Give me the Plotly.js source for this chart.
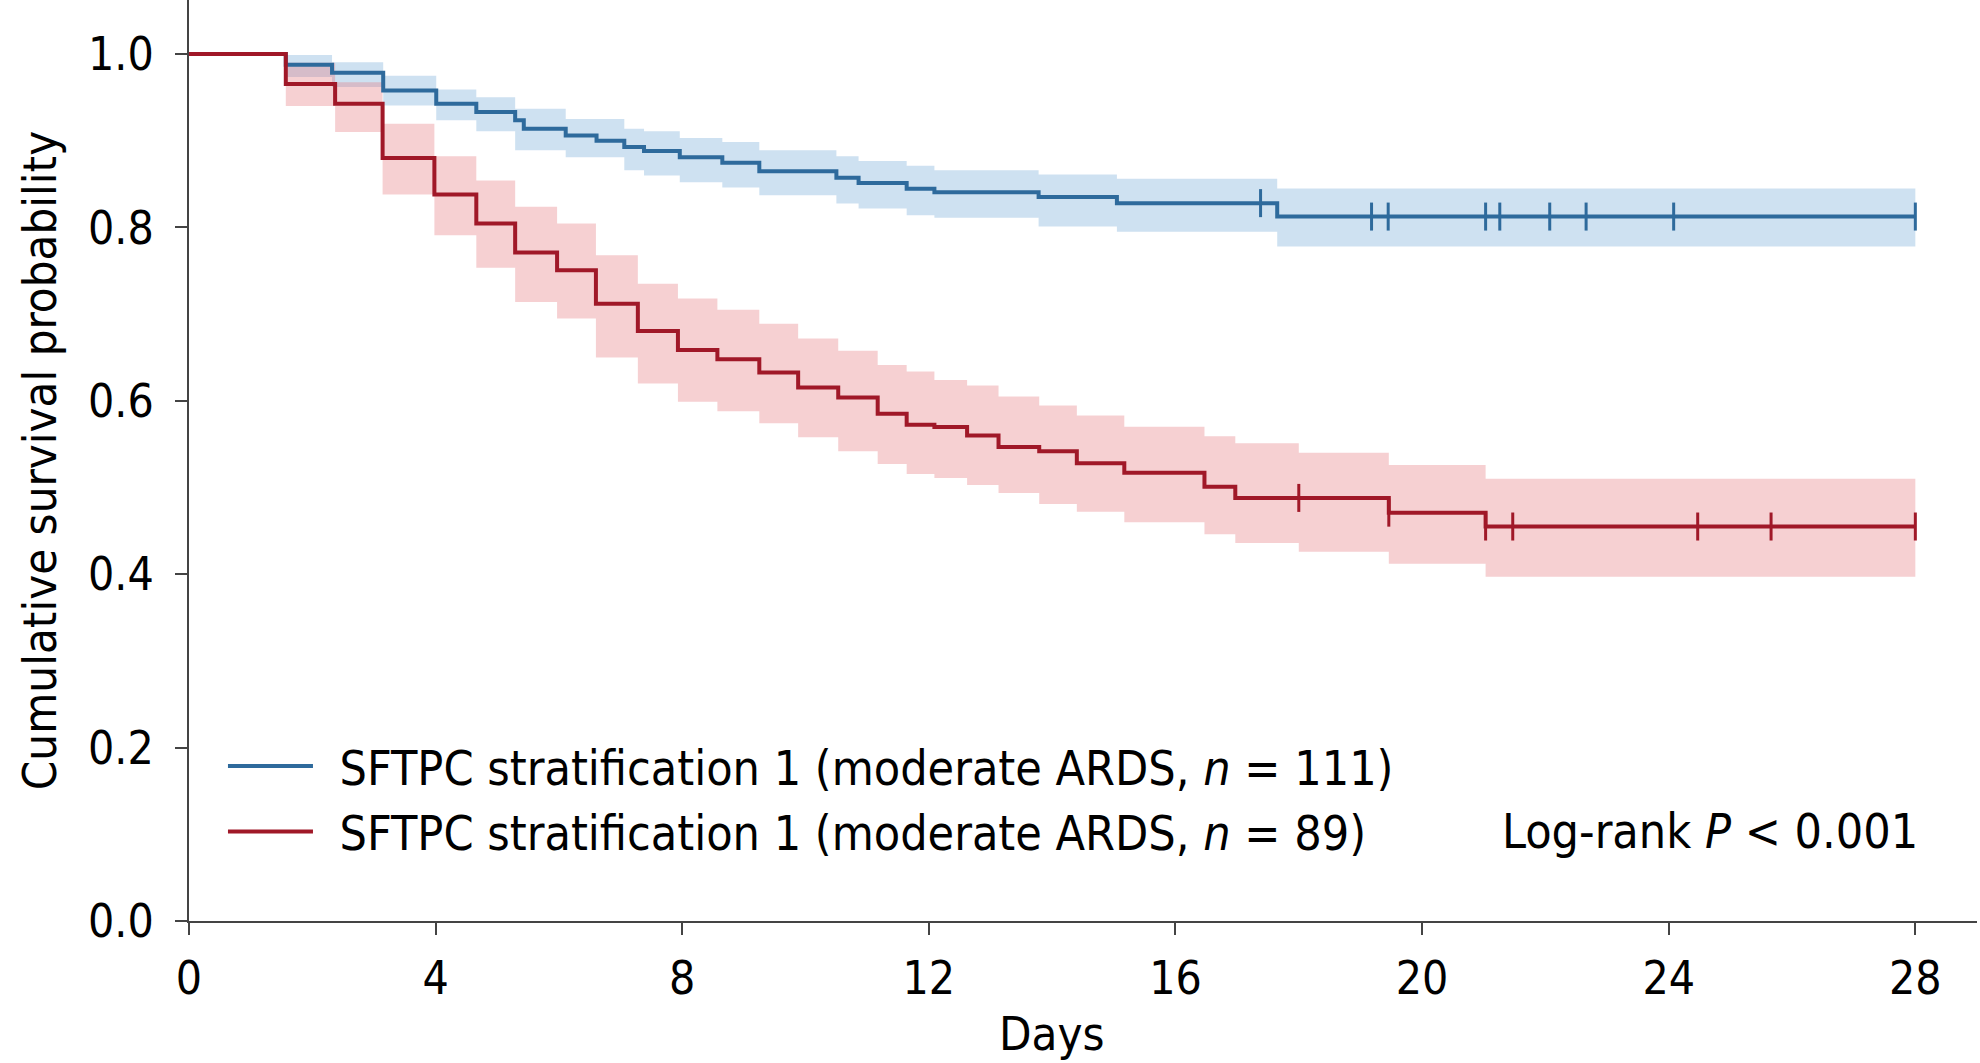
<!DOCTYPE html>
<html>
<head>
<meta charset="utf-8">
<script src="https://cdn.plot.ly/plotly-3.0.1.min.js"></script>
<style>html,body{margin:0;padding:0;background:#fff;}#chart{width:1980px;height:1063px;}</style>
</head>
<body>
<div id="chart"></div>
<script>
// ---- Data ----
const blueName = "&#8194;SFTPC stratification 1 (moderate ARDS, <i>n</i> = 111)";
const redName = "&#8194;SFTPC stratification 1 (moderate ARDS, <i>n</i> = 89)";

const blueTimes = [0,1.57,2.32,3.15,4.01,4.66,5.29,5.43,6.11,6.61,7.06,7.38,7.96,8.65,9.25,10.50,10.86,11.64,12.09,13.78,15.05,17.65,28];
const blueSurv  = [1,0.9877,0.9783,0.958,0.9426,0.933,0.9235,0.9138,0.906,0.900,0.8927,0.8881,0.8809,0.8747,0.8648,0.8574,0.8513,0.8447,0.8405,0.835,0.828,0.8125,0.8125];

const blueBandTimes = [0,1.57,2.32,3.15,4.01,4.66,5.29,6.11,7.06,7.38,7.96,8.65,9.25,10.50,10.86,11.64,12.09,13.78,15.05,17.65,28];
const blueUpper = [1,0.999,0.9906,0.975,0.959,0.950,0.937,0.925,0.9138,0.911,0.903,0.8985,0.889,0.882,0.8766,0.871,0.866,0.861,0.856,0.845,0.845];
const blueLower = [1,0.9735,0.962,0.9407,0.9235,0.911,0.889,0.881,0.866,0.860,0.852,0.846,0.837,0.8275,0.8217,0.814,0.811,0.801,0.795,0.778,0.778];

const blueCensorTimes = [17.38,19.18,19.45,21.03,21.26,22.07,22.66,24.08,28.0];
const blueCensorSurv  = [0.828,0.8125,0.8125,0.8125,0.8125,0.8125,0.8125,0.8125,0.8125];

const redTimes = [0,1.57,2.37,3.14,3.98,4.66,5.29,5.97,6.60,7.28,7.93,8.57,9.25,9.88,10.53,11.17,11.64,12.09,12.62,13.13,13.79,14.40,15.17,16.47,16.97,19.46,21.03,28];
const redSurv  = [1,0.9655,0.9426,0.880,0.838,0.8045,0.771,0.7507,0.712,0.6806,0.6587,0.648,0.6326,0.6153,0.6038,0.585,0.5724,0.5697,0.560,0.5467,0.5417,0.528,0.517,0.501,0.488,0.471,0.455,0.455];

const redBandTimes = [0,1.57,2.37,3.14,3.98,4.66,5.29,5.97,6.60,7.28,7.93,8.57,9.25,9.88,10.53,11.17,11.64,12.09,12.62,13.13,13.79,14.40,15.17,16.47,16.97,18.0,19.46,21.03,28];
const redUpper = [1,0.99,0.9675,0.9196,0.882,0.854,0.8237,0.8045,0.768,0.735,0.718,0.705,0.689,0.672,0.6576,0.6414,0.6337,0.624,0.6176,0.605,0.5946,0.583,0.570,0.559,0.551,0.540,0.526,0.510,0.510];
const redLower = [1,0.94,0.910,0.838,0.791,0.7535,0.714,0.695,0.65,0.620,0.599,0.588,0.574,0.558,0.5417,0.527,0.5156,0.511,0.503,0.4937,0.481,0.472,0.460,0.446,0.436,0.426,0.412,0.397,0.397];

const redCensorTimes = [18.0,19.46,21.03,21.47,24.47,25.66,28.0];
const redCensorSurv  = [0.488,0.471,0.455,0.455,0.455,0.455,0.455];

const xTicks = [0,4,8,12,16,20,24,28];
const yTicks = [0,0.2,0.4,0.6,0.8,1.0];

// ---- Styles ----
const FONT = "DejaVu Sans Condensed, DejaVu Sans, sans-serif";
const BLUE = "#2e6a9c";
const RED = "#a01828";
const BLUE_FILL = "rgba(116,169,214,0.35)";
const RED_FILL = "rgba(230,120,125,0.35)";
const AXIS = "#444444";

const traces = [
  {x: blueBandTimes, y: blueUpper, mode: "lines", line: {shape: "hv", width: 0, color: BLUE_FILL}, showlegend: false, hoverinfo: "skip"},
  {x: blueBandTimes, y: blueLower, mode: "lines", line: {shape: "hv", width: 0, color: BLUE_FILL}, fill: "tonexty", fillcolor: BLUE_FILL, showlegend: false, hoverinfo: "skip"},
  {x: redBandTimes, y: redUpper, mode: "lines", line: {shape: "hv", width: 0, color: RED_FILL}, showlegend: false, hoverinfo: "skip"},
  {x: redBandTimes, y: redLower, mode: "lines", line: {shape: "hv", width: 0, color: RED_FILL}, fill: "tonexty", fillcolor: RED_FILL, showlegend: false, hoverinfo: "skip"},
  {x: blueTimes, y: blueSurv, mode: "lines", name: blueName, line: {shape: "hv", width: 4, color: BLUE}, legendrank: 1},
  {x: blueCensorTimes, y: blueCensorSurv, mode: "markers", showlegend: false,
   marker: {symbol: "line-ns-open", size: 20, color: BLUE, line: {width: 3, color: BLUE}}},
  {x: redTimes, y: redSurv, mode: "lines", name: redName, line: {shape: "hv", width: 4, color: RED}, legendrank: 2},
  {x: redCensorTimes, y: redCensorSurv, mode: "markers", showlegend: false,
   marker: {symbol: "line-ns-open", size: 20, color: RED, line: {width: 3, color: RED}}}
];

const layout = {
  width: 1980, height: 1063,
  margin: {l: 189, r: 3, t: 0, b: 142, pad: 0},
  paper_bgcolor: "#ffffff", plot_bgcolor: "#ffffff",
  font: {family: FONT, size: 46, color: "#000"},
  xaxis: {
    range: [0, 29], tickvals: xTicks, ticktext: xTicks.map(String),
    showgrid: false, zeroline: false, showline: true, linecolor: AXIS, linewidth: 2,
    ticks: "outside", ticklen: 12, tickwidth: 2, tickcolor: AXIS,
    tickfont: {family: FONT, size: 46, color: "#000"}, ticklabelstandoff: 4
  },
  yaxis: {
    range: [0, 1.0623], tickvals: yTicks, ticktext: yTicks.map(v => v.toFixed(1)),
    showgrid: false, zeroline: false, showline: true, linecolor: AXIS, linewidth: 2,
    ticks: "outside", ticklen: 12, tickwidth: 2, tickcolor: AXIS,
    tickfont: {family: FONT, size: 46, color: "#000"}, ticklabelstandoff: 12,
    title: {text: "Cumulative survival probability", font: {family: FONT, size: 47, color: "#000"}, standoff: 17}
  },
  showlegend: true,
  legend: {
    x: 0.019, y: 0.1327, xanchor: "left", yanchor: "middle",
    bgcolor: "rgba(0,0,0,0)", borderwidth: 0,
    font: {family: FONT, size: 48, color: "#000"},
    itemwidth: 85, tracegroupgap: 0, traceorder: "normal"
  },
  annotations: [
    {text: "Log-rank <i>P</i> &lt; 0.001", xref: "x", yref: "paper", x: 28.08, y: 0.0977,
     xanchor: "right", yanchor: "middle", showarrow: false, font: {family: FONT, size: 48, color: "#000"}},
    {text: "Days", xref: "x", yref: "paper", x: 14, y: -0.122, xanchor: "center", yanchor: "middle",
     showarrow: false, font: {family: FONT, size: 47, color: "#000"}}
  ]
};

Plotly.newPlot("chart", traces, layout, {staticPlot: true, displayModeBar: false});
</script>
</body>
</html>
